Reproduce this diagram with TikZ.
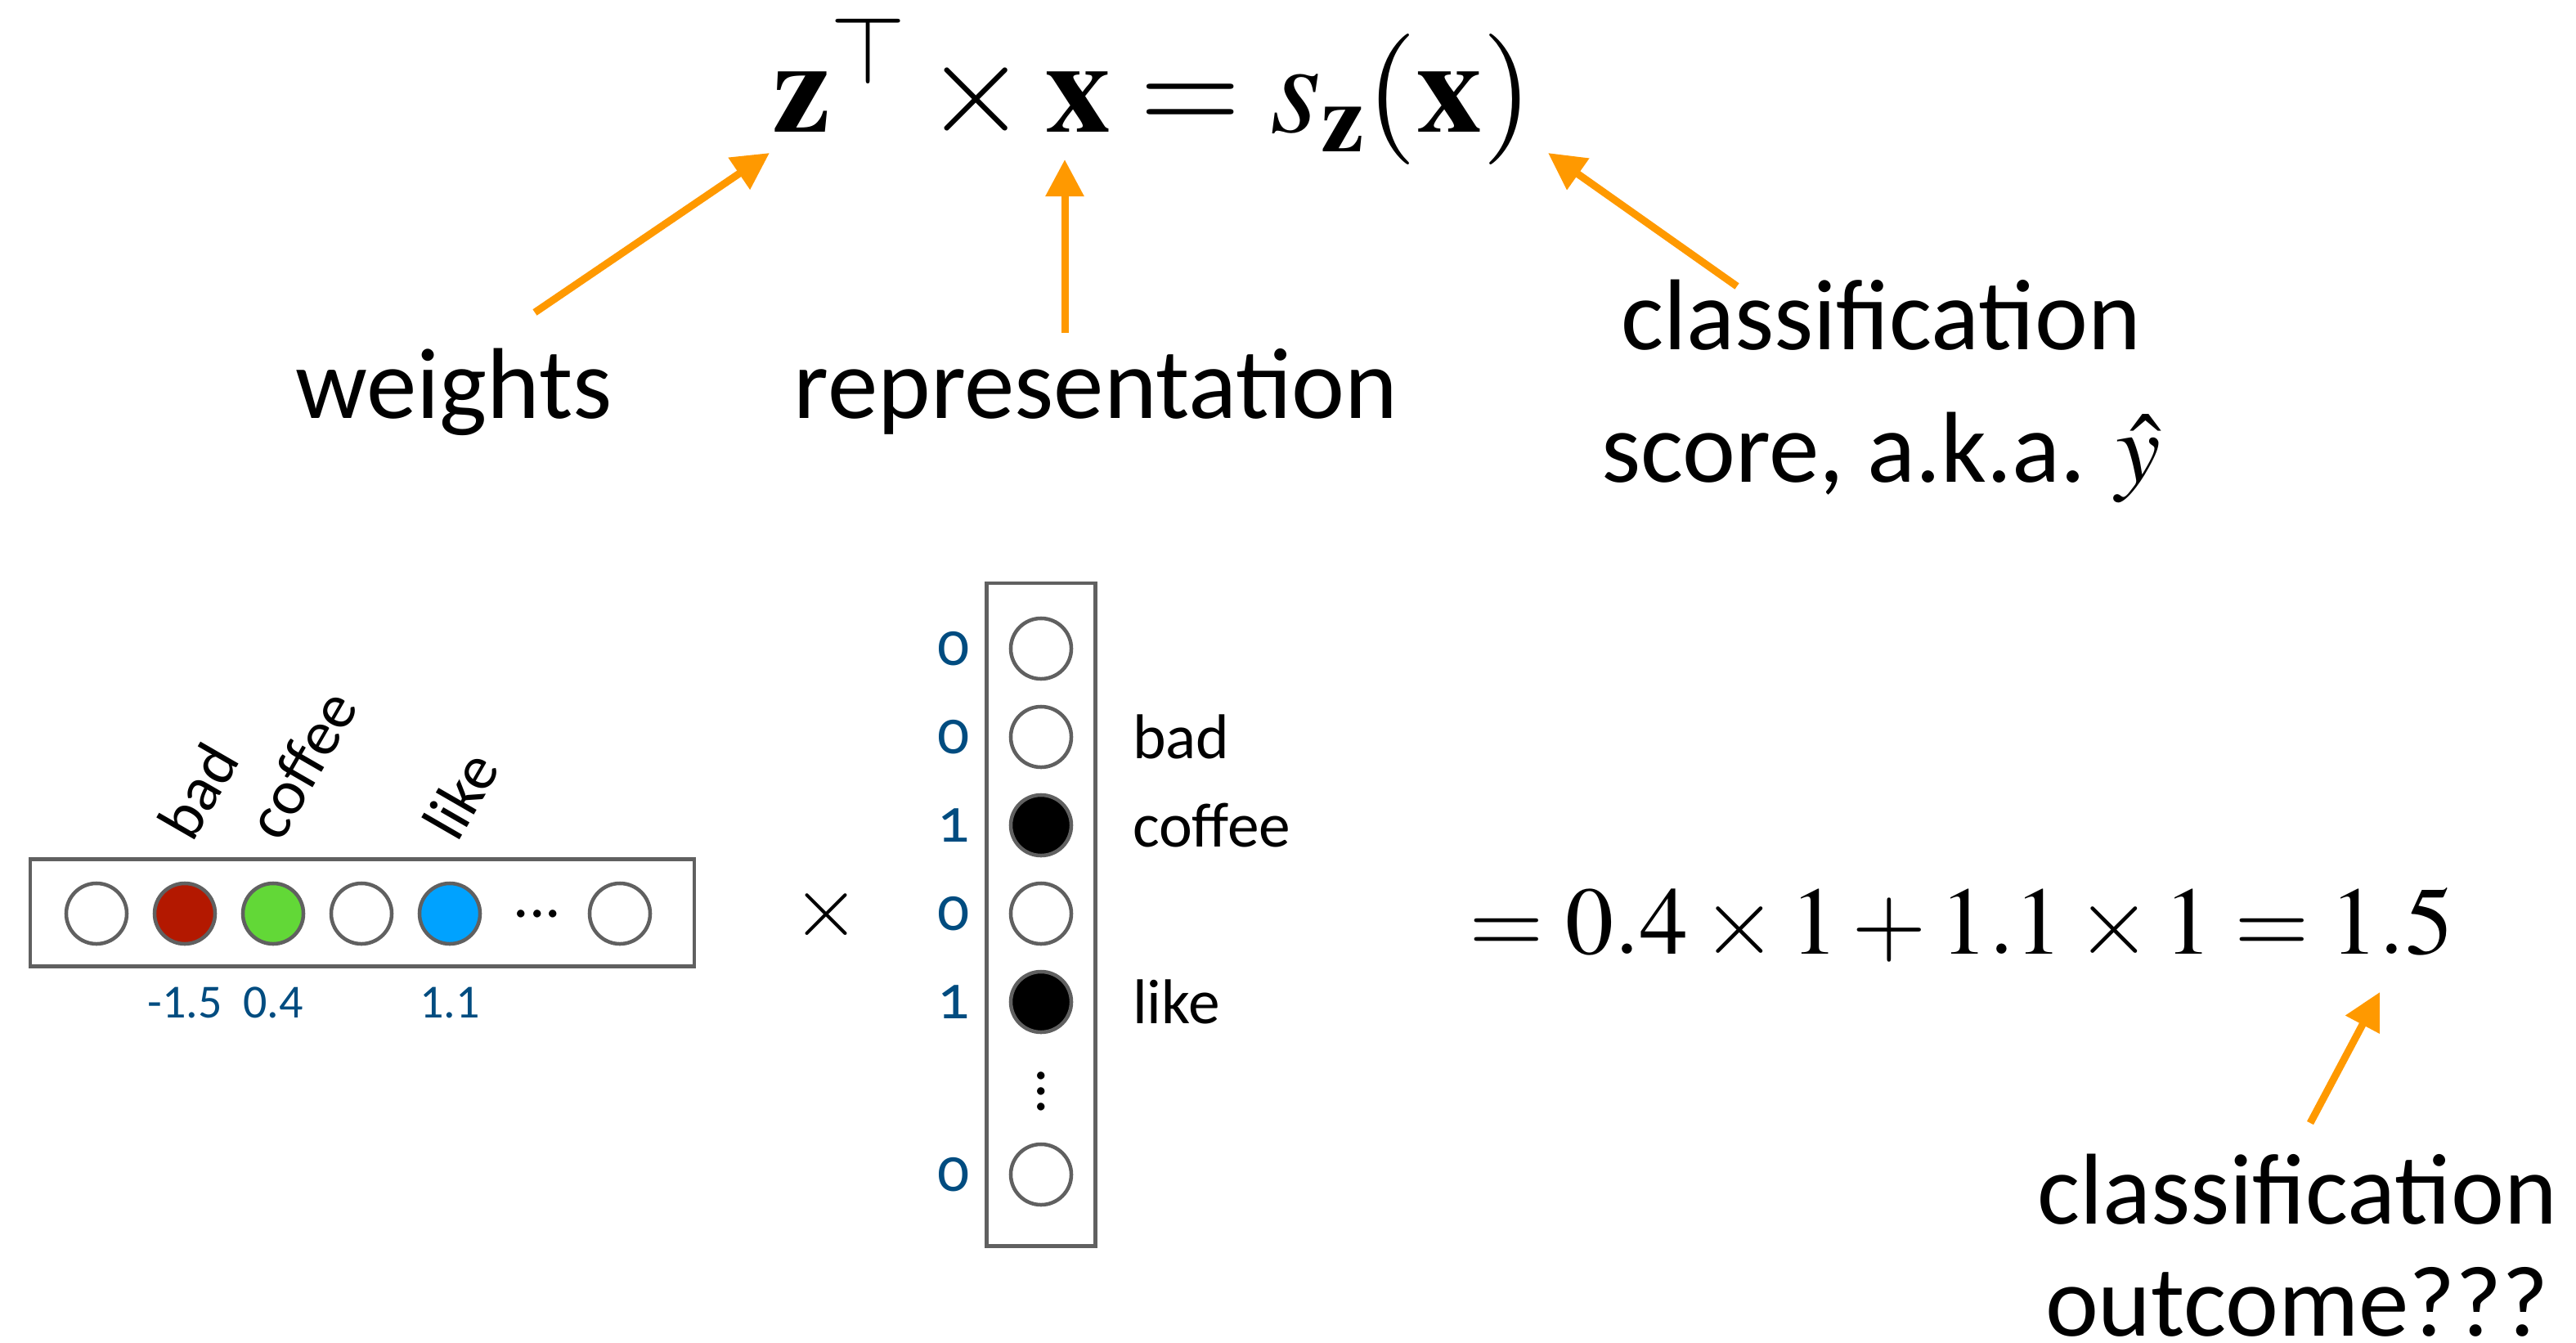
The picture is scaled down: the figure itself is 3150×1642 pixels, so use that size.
\documentclass[tikz,border=0pt]{standalone}
\usepackage{mathptmx}
\usepackage[no-math]{fontspec}
\setmainfont{Carlito}
\newfontfamily\oldstylefont[Numbers=OldStyle]{Carlito}
\usetikzlibrary{arrows.meta, positioning}

\definecolor{pointerorange}{HTML}{FF9900}
\definecolor{framegray}{HTML}{606060}
\definecolor{valueblue}{HTML}{004C80}
\definecolor{badred}{HTML}{B31800}
\definecolor{coffeegreen}{HTML}{62D837}
\definecolor{likeblue}{HTML}{00A2FF}

\newcommand{\bigsize}{\fontsize{35}{45.8}\selectfont}
\newcommand{\wordsize}{\fontsize{22}{26}\selectfont}
\newcommand{\tallvdots}{\vbox{\baselineskip5.4pt\lineskiplimit0pt\hbox{.}\hbox{.}\hbox{.}}}

\begin{document}
\begin{tikzpicture}[x=0.01cm, y=-0.01cm, >={Triangle[length=0.45cm, width=0.45cm]},
  every node/.style={inner sep=0},
  pointer/.style={->, draw=pointerorange, line width=0.09cm},
  bigtag/.style={font=\bigsize},
  wordtag/.style={font=\wordsize},
  valuetag/.style={font=\fontsize{16.5}{18}\selectfont, text=valueblue},
  unit/.style={circle, draw=framegray, line width=0.045cm, minimum size=0.74cm, fill=white},
  vecbox/.style={draw=framegray, line width=0.045cm}]
  \useasboundingbox (0,0) rectangle (3150,1642);

  % the score formula and what its parts are
  \node[anchor=base west] (score) at (944,161) {\fontsize{45.5}{50}\selectfont $\mathbf{z}^{\top}\times\mathbf{x}=s_{\mathbf{z}}(\mathbf{x})$};
  \coordinate (ztip) at (941,187);
  \coordinate (xtip) at (1302,195);
  \coordinate (stip) at (1893,187);

  \node[bigtag, anchor=base] (weights) at (555,511) {weights};
  \node[bigtag, anchor=base] (repr) at (1340,511) {representation};
  \node[bigtag, align=center, anchor=base] (scoretag) at (2300,589) {classification\\score, a.k.a. $\hat{y}$};

  \draw[pointer] (weights.base) ++(99,-129) -- (ztip);
  \draw[pointer] (repr.base) ++(-38,-104) -- (xtip);
  \draw[pointer] (scoretag.base) ++(-176,-239) -- (stip);

  % weight vector z
  \node[vecbox, minimum width=8.12cm, minimum height=1.31cm] (wbox) at (443,1116) {};
  \foreach \i/\c in {1/white, 2/badred, 3/coffeegreen, 4/white, 5/likeblue}
    \node[unit, fill=\c] (w\i) at ({118+108*(\i-1)},1117) {};
  \node[wordtag] (wdots) at (657,1117) {.\kern0pt.\kern0pt.};
  \node[unit] (w7) at (758,1117) {};

  \node[wordtag, rotate=60, above right=0.45cm and 0.1cm of w2.north] {bad};
  \node[wordtag, rotate=60, above right=0.45cm and 0.1cm of w3.north] {coffee};
  \node[wordtag, rotate=60, above right=0.45cm and 0.1cm of w5.north] {like};

  \node[valuetag, below=0.5cm of w2] {-1.5};
  \node[valuetag, below=0.5cm of w3] {0.4};
  \node[valuetag, below=0.5cm of w5] {1.1};

  \node (times) at (1010,1118) {\fontsize{30}{30}\selectfont$\times$};

  % one-hot vector x
  \node[vecbox, minimum width=1.33cm, minimum height=8.10cm] (xbox) at (1273,1118) {};
  \foreach \i/\c in {1/white, 2/white, 3/black, 4/white, 5/black}
    \node[unit, fill=\c] (v\i) at (1273,{793+108*(\i-1)}) {};
  \node[wordtag] (vdots) at (1273,1334) {\tallvdots};
  \node[unit] (v7) at (1273,1436) {};

  \foreach \i/\b in {1/0, 2/0, 3/1, 4/0, 5/1, 7/0}
    \node[valuetag, font=\wordsize\oldstylefont, left=0.47cm of v\i] {\b};

  \node[wordtag, right=0.72cm of v2] {bad};
  \node[wordtag, right=0.72cm of v3] {coffee};
  \node[wordtag, right=0.72cm of v5] {like};

  % the dot product
  \node[anchor=base west] (sum) at (1796,1166) {\fontsize{33.5}{40}\selectfont $=0.4\times1+1.1\times1=1.5$};
  \coordinate (sumtip) at (2910,1213);
  \node[bigtag, align=center, anchor=base, font=\fontsize{35}{38.7}\selectfont] (outcome) at (2809,1633) {classification\\outcome???};
  \draw[pointer] (outcome.base) ++(16,-260) -- (sumtip);
\end{tikzpicture}
\end{document}
